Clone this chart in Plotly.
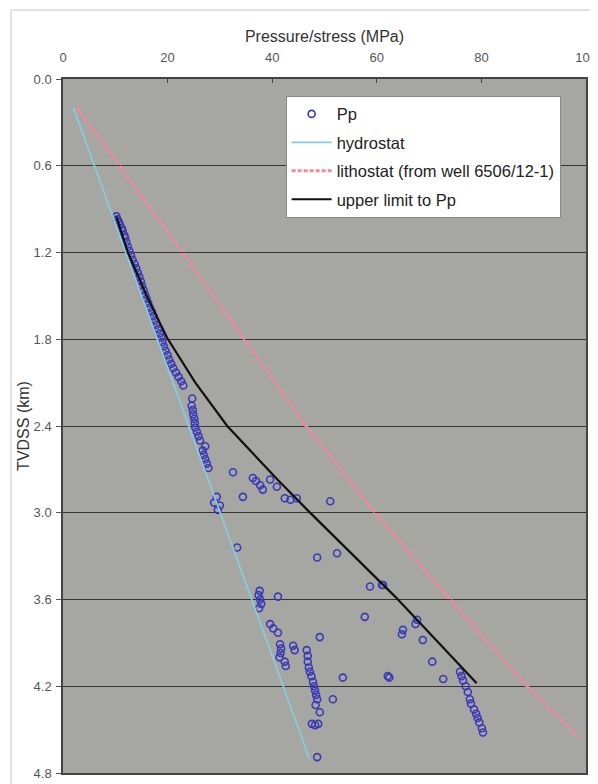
import plotly.graph_objects as go

# ---- data (pressure MPa, depth km) ----
pp_pressure = [10.2,10.4,10.7,10.9,11.2,11.4,11.7,11.9,12.1,12.4,12.7,13.0,13.3,13.7,14.0,14.3,14.6,14.9,15.1,15.4,
               15.7,16.0,16.3,16.6,17.0,17.3,17.6,17.9,18.2,18.5,18.8,19.0,19.3,19.6,20.0,20.3,20.7,21.1,21.6,22.1,
               22.6,23.0,24.7,24.6,24.8,24.9,25.1,25.2,25.3,25.6,25.9,26.2,27.2,26.7,26.9,27.2,27.5,27.8,
               32.5,36.3,36.9,37.7,38.2,39.6,40.9,34.4,29.4,28.9,30.0,29.6,42.4,43.5,44.7,51.1,
               33.3,48.6,52.4,58.7,61.0,61.2,
               37.4,37.7,37.9,37.5,37.6,41.1,57.7,39.6,40.2,41.1,49.1,41.5,41.7,41.6,41.4,44.0,44.3,42.4,42.6,
               67.7,67.4,65.0,64.8,68.8,70.6,
               46.6,46.8,46.8,47.0,47.2,47.5,47.8,48.0,48.2,48.4,48.6,51.6,53.5,62.1,62.4,72.7,75.9,76.2,76.5,
               77.0,77.4,77.8,78.0,78.6,79.0,79.3,79.6,80.1,80.3,49.1,47.6,48.2,48.8,48.6,48.3]
pp_depth = [0.95,0.97,0.99,1.01,1.03,1.05,1.08,1.10,1.13,1.16,1.19,1.22,1.25,1.28,1.31,1.34,1.37,1.40,1.43,1.46,
            1.49,1.52,1.55,1.58,1.61,1.64,1.67,1.70,1.73,1.76,1.79,1.82,1.85,1.88,1.91,1.94,1.97,2.00,2.03,2.06,
            2.09,2.12,2.21,2.26,2.29,2.32,2.35,2.38,2.41,2.44,2.47,2.50,2.54,2.57,2.60,2.63,2.66,2.69,
            2.72,2.76,2.78,2.81,2.84,2.77,2.82,2.89,2.89,2.93,2.95,2.98,2.90,2.91,2.90,2.92,
            3.24,3.31,3.28,3.51,3.50,3.50,
            3.57,3.60,3.63,3.66,3.54,3.58,3.72,3.77,3.80,3.83,3.86,3.91,3.94,3.97,4.00,3.92,3.95,4.03,4.06,
            3.74,3.77,3.81,3.84,3.88,4.03,
            3.95,3.99,4.03,4.07,4.10,4.13,4.17,4.20,4.23,4.26,4.29,4.29,4.14,4.13,4.14,4.15,4.10,4.13,4.16,
            4.20,4.24,4.29,4.32,4.36,4.39,4.42,4.45,4.49,4.52,4.38,4.46,4.47,4.46,4.69,4.33]

hydro_pressure = [2.0, 47.1]
hydro_depth = [0.2, 4.7]

litho_pressure = [2.7, 22.9, 46.5, 59.7, 74.0, 88.7, 98.5]
litho_depth = [0.2, 1.2, 2.4, 3.0, 3.6, 4.2, 4.55]

upper_pressure = [10.2, 12.4, 16.0, 19.9, 25.3, 31.4, 41.0, 46.7, 63.5, 79.1]
upper_depth = [0.95, 1.2, 1.5, 1.79, 2.1, 2.4, 2.77, 2.98, 3.58, 4.18]

x_ticks = [0, 20, 40, 60, 80, 100]
y_ticks = [0.0, 0.6, 1.2, 1.8, 2.4, 3.0, 3.6, 4.2, 4.8]

font_family = "Liberation Sans, Arial, sans-serif"

fig = go.Figure()
fig.add_trace(go.Scatter(x=pp_pressure, y=pp_depth, mode="markers", name="Pp", legendgroup="a",
                         marker=dict(symbol="circle-open", size=7, color="#3a3ab8", line=dict(width=1.6))))
fig.add_trace(go.Scatter(x=hydro_pressure, y=hydro_depth, mode="lines", name="hydrostat", legendgroup="b",
                         line=dict(color="#88ccdc", width=1.8)))
fig.add_trace(go.Scatter(x=litho_pressure, y=litho_depth, mode="lines", name="lithostat (from well 6506/12-1)",
                         legendgroup="c", line=dict(color="#f08a9c", width=3, dash="4px,2px")))
fig.add_trace(go.Scatter(x=upper_pressure, y=upper_depth, mode="lines", name="upper limit to Pp", legendgroup="d",
                         line=dict(color="#111111", width=2.2)))

# page body adds an 8px offset, so the figure is 590x776 to fill the 598x784 window
fig.update_layout(
    width=590, height=776,
    margin=dict(l=55, r=12, t=71, b=11),
    paper_bgcolor="white",
    plot_bgcolor="#a6a6a3",
    font=dict(family=font_family, size=13, color="#4a4a4a"),
    showlegend=True,
    legend=dict(x=0.4257, y=0.976, xanchor="left", yanchor="top",
                bgcolor="white", bordercolor="#888888", borderwidth=1,
                font=dict(size=16.5, color="#222222"), tracegroupgap=4,
                itemwidth=40),
    xaxis=dict(range=[0, 100], side="top", tickvals=x_ticks, ticktext=[str(v) for v in x_ticks],
               automargin=False,
               showgrid=False, zeroline=False, showline=True, linecolor="#444444", linewidth=1.5, mirror=True,
               ticks="inside", ticklen=4, tickcolor="#444444", ticklabelstandoff=10,
               tickfont=dict(size=13, color="#555555"),
               title=dict(text="Pressure/stress (MPa)", standoff=3, font=dict(size=16, color="#333333"))),
    yaxis=dict(range=[4.8, 0], tickvals=y_ticks, ticktext=[f"{v:.1f}" for v in y_ticks],
               automargin=False,
               showgrid=True, gridcolor="#353535", gridwidth=1.3, zeroline=False,
               showline=True, linecolor="#444444", linewidth=1.5, mirror=True,
               ticks="outside", ticklen=5, tickcolor="#555555", ticklabelstandoff=2,
               tickfont=dict(size=13, color="#555555"),
               title=dict(text="TVDSS (km)", standoff=0, font=dict(size=16, color="#333333"))),
    shapes=[
        dict(type="line", xref="paper", yref="paper", x0=-0.0994, x1=1.03, y0=1.0994, y1=1.0994,
             line=dict(color="#c8c8c8", width=1)),
        dict(type="line", xref="paper", yref="paper", x0=-0.0994, x1=-0.0994, y0=-0.02, y1=1.0994,
             line=dict(color="#c8c8c8", width=1)),
    ],
)

fig.write_html("out.html")
